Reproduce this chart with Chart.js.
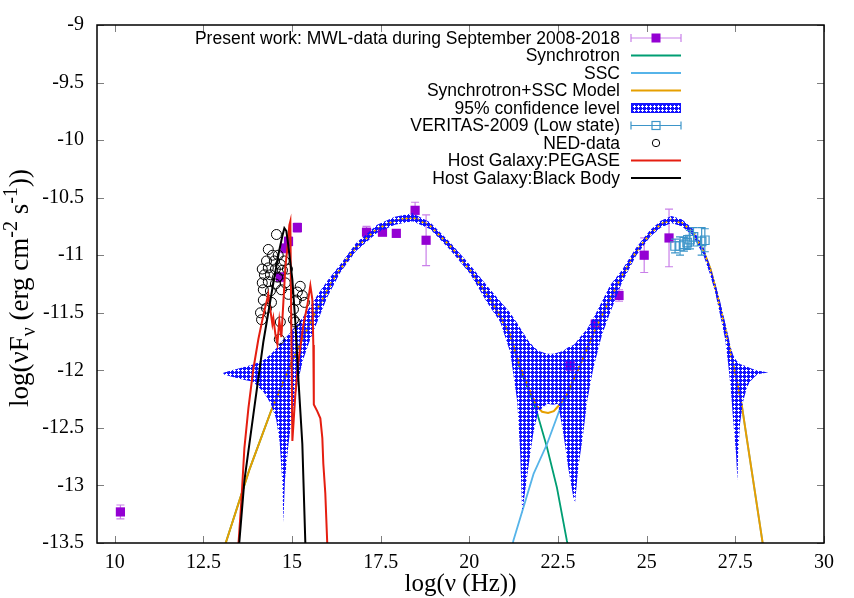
<!DOCTYPE html>
<html>
<head>
<meta charset="utf-8">
<style>
  html, body { margin: 0; padding: 0; background: #fff; }
  #wrap { width: 854px; height: 598px; }
</style>
<script src="https://cdn.jsdelivr.net/npm/chart.js@4.4.1/dist/chart.umd.min.js"></script>
</head>
<body>
<div id="wrap"><canvas id="sed" width="854" height="598"></canvas></div>
<script>
// ---- data ----
const xTicks = [10, 12.5, 15, 17.5, 20, 22.5, 25, 27.5, 30];
const yTicks = [-13.5, -13, -12.5, -12, -11.5, -11, -10.5, -10, -9.5, -9];

// present work MWL points
const mwlX = [10.16, 14.67, 14.80, 14.90, 15.15, 17.10, 17.55, 17.94, 18.47, 18.78, 22.84, 23.55, 24.22, 24.93, 25.63];
const mwlY = [-13.23, -11.19, -10.94, -10.88, -10.76, -10.80, -10.80, -10.81, -10.61, -10.87, -11.96, -11.60, -11.35, -11.00, -10.85];
const mwlErr = [0.06, 0.04, 0.04, 0.04, 0.04, 0.05, 0.03, 0.03, 0.07, 0.22, 0.04, 0.04, 0.05, 0.15, 0.25];

// VERITAS 2009 low state
const verX = [25.80, 25.94, 26.05, 26.14, 26.22, 26.32, 26.55, 26.64];
const verY = [-10.92, -10.92, -10.905, -10.89, -10.865, -10.84, -10.88, -10.87];
const verErr = [0.06, 0.08, 0.06, 0.06, 0.08, 0.08, 0.12, 0.10];

// NED archival points
const nedX = [14.56, 14.33, 14.45, 14.28, 14.50, 14.67, 14.16, 14.33, 14.53, 14.73, 14.22, 14.39, 14.59,
  14.16, 14.33, 14.53, 14.19, 14.39, 14.19, 14.28, 14.14, 14.42, 14.67, 14.64, 14.87, 14.90, 15.04,
  15.04, 15.12, 15.23, 15.29, 15.35, 15.15, 15.09, 14.81, 14.70, 14.61, 14.78, 14.11];
const nedY = [-10.82, -10.95, -11.00, -11.05, -11.05, -11.08, -11.12, -11.11, -11.12, -11.13, -11.17, -11.17, -11.19,
  -11.24, -11.23, -11.25, -11.30, -11.31, -11.39, -11.46, -11.56, -11.41, -11.58, -11.73, -11.12, -11.34, -11.47,
  -11.56, -11.39, -11.27, -11.35, -11.41, -11.32, -11.58, -11.24, -11.30, -11.00, -11.05, -11.50];

// Synchrotron + SSC model
const modelX = [13.0, 13.15, 13.8, 14.4, 15.0, 15.6, 16.2, 16.8, 17.4, 17.9, 18.4, 18.9, 19.46, 20.02, 20.59,
  21.15, 21.43, 21.71, 21.9, 22.05, 22.22, 22.38, 22.51, 22.75, 23.1, 23.5, 23.9, 24.3, 24.7, 25.1, 25.4,
  25.7, 26.0, 26.3, 26.6, 26.8, 27.0, 27.2, 27.4, 27.55, 27.68, 27.95, 28.26, 28.35];
const modelY = [-13.63, -13.48, -12.86, -12.36, -11.92, -11.53, -11.19, -10.93, -10.77, -10.70, -10.67, -10.745,
  -10.92, -11.13, -11.38, -11.69, -11.97, -12.18, -12.31, -12.36, -12.37, -12.355, -12.31, -12.21, -11.97,
  -11.68, -11.42, -11.18, -10.97, -10.81, -10.73, -10.69, -10.72, -10.80, -10.96, -11.12, -11.36, -11.62,
  -11.89, -12.10, -12.30, -12.85, -13.48, -13.68];

// synchrotron component
const syncX = [13.0, 13.15, 13.8, 14.4, 15.0, 15.6, 16.2, 16.8, 17.4, 17.9, 18.4, 18.9, 19.46, 20.02, 20.59,
  21.15, 21.43, 21.71, 21.9, 22.19, 22.47, 22.75, 22.85];
const syncY = [-13.63, -13.48, -12.86, -12.36, -11.92, -11.53, -11.19, -10.93, -10.77, -10.70, -10.67, -10.745,
  -10.92, -11.13, -11.38, -11.69, -11.99, -12.20, -12.36, -12.67, -13.02, -13.48, -13.62];

// SSC component
const sscX = [21.2, 21.24, 21.81, 22.19, 22.56, 22.75, 23.1, 23.5, 23.9, 24.3, 24.7, 25.1, 25.4, 25.7, 26.0,
  26.3, 26.6, 26.8, 27.0, 27.2, 27.4, 27.55, 27.68, 27.95, 28.26, 28.35];
const sscY = [-13.55, -13.48, -12.90, -12.64, -12.33, -12.23, -11.97, -11.68, -11.42, -11.18, -10.97, -10.81,
  -10.73, -10.69, -10.72, -10.80, -10.96, -11.12, -11.36, -11.62, -11.89, -12.10, -12.30, -12.85, -13.48, -13.68];

// 95% confidence band (upper / lower edge on a shared grid)
const bandX = [13.06, 13.3, 13.6, 13.9, 14.2, 14.4, 14.55, 14.65, 14.72, 14.755, 14.8, 14.9, 15.0, 15.15, 15.3,
  15.5, 15.75, 16.0, 16.36, 16.8, 17.4, 17.9, 18.4, 18.9, 19.46, 20.02, 20.5, 20.87, 21.15, 21.35, 21.43, 21.49,
  21.66, 21.8, 21.94, 22.19, 22.36, 22.5, 22.65, 22.79, 22.93, 22.98, 23.07, 23.21, 23.32, 23.49, 23.74, 23.97,
  24.3, 24.7, 25.1, 25.4, 25.7, 26.0, 26.3, 26.6, 26.78, 26.93, 27.07, 27.21, 27.3, 27.37, 27.44, 27.52, 27.56,
  27.58, 27.63, 27.72, 27.82, 27.91, 28.1, 28.2, 28.43];
const bandHi = [-12.02, -12.00, -11.975, -11.95, -11.91, -11.86, -11.81, -11.77, -11.745, -11.73, -11.72, -11.69,
  -11.65, -11.60, -11.54, -11.45, -11.33, -11.22, -11.08, -10.895, -10.735, -10.665, -10.635, -10.715, -10.89,
  -11.085, -11.265, -11.40, -11.50, -11.59, -11.63, -11.66, -11.74, -11.79, -11.83, -11.855, -11.855, -11.845,
  -11.83, -11.80, -11.78, -11.77, -11.73, -11.68, -11.64, -11.55, -11.40, -11.26, -11.13, -10.935, -10.78,
  -10.70, -10.66, -10.69, -10.77, -10.93, -11.09, -11.24, -11.40, -11.58, -11.70, -11.80, -11.87, -11.91,
  -11.925, -11.93, -11.945, -11.955, -11.965, -11.98, -12.00, -12.006, -12.018];
const bandLo = [-12.035, -12.055, -12.08, -12.10, -12.19, -12.29, -12.42, -12.62, -12.95, -13.32, -12.95, -12.64,
  -12.40, -12.12, -11.92, -11.74, -11.55, -11.36, -11.15, -10.965, -10.805, -10.735, -10.705, -10.775, -10.955,
  -11.16, -11.41, -11.58, -11.84, -12.27, -12.70, -13.24, -12.85, -12.55, -12.36, -12.29, -12.30, -12.29,
  -12.55, -12.85, -13.10, -13.15, -12.85, -12.55, -12.27, -11.99, -11.69, -11.50, -11.24, -11.005, -10.84,
  -10.76, -10.72, -10.75, -10.83, -11.00, -11.16, -11.32, -11.52, -11.725, -11.95, -12.16, -12.44, -12.73,
  -12.96, -12.73, -12.47, -12.27, -12.156, -12.10, -12.04, -12.03, -12.018];

// host galaxy PEGASE template
const pegX = [13.487, 13.572, 13.656, 13.769, 13.91, 14.051, 14.19, 14.276, 14.33, 14.389, 14.445, 14.473, 14.53,
  14.586, 14.642, 14.699, 14.755, 14.811, 14.868, 14.924, 14.952, 14.98, 15.009, 15.093, 15.178, 15.319, 15.431,
  15.516, 15.572, 15.60, 15.614, 15.713, 15.798, 15.854, 15.882, 15.938, 15.995];
const pegY = [-13.52, -13.13, -12.675, -12.33, -11.986, -11.728, -11.522, -11.41, -11.34, -11.479, -11.599, -11.547,
  -11.685, -11.771, -11.565, -11.711, -11.41, -11.108, -10.936, -10.738, -10.704, -11.668, -12.614, -12.21,
  -11.926, -11.608, -11.435, -11.263, -11.384, -11.78, -12.296, -12.356, -12.417, -12.589, -12.812, -13.07, -13.52];

// host galaxy black body
const bbX = [13.459, 13.515, 13.656, 13.91, 14.19, 14.473, 14.642, 14.727, 14.783, 14.84, 14.896, 15.009, 15.093,
  15.178, 15.29, 15.375, 15.403];
const bbY = [-13.647, -13.484, -12.959, -12.382, -11.754, -11.239, -10.954, -10.833, -10.764, -10.79, -10.919,
  -11.212, -11.582, -12.072, -12.64, -13.50, -13.69];

// ---- styling ----
const PURPLE = '#9400d3';
const PURPLE_BAR = 'rgba(148,0,211,0.5)';
const GREEN = '#009e73';
const SKY = '#56b4e9';
const ORANGE = '#e69f00';
const BLUE = '#1414ff';
const VER_BLUE = '#3d95c9';
const RED = '#e51e10';
const SERIF = '"Liberation Serif", "DejaVu Serif", serif';
const SANS = '"Liberation Sans", Arial, sans-serif';

const canvas = document.getElementById('sed');
const ctx0 = canvas.getContext('2d');

function makePattern() {
  // crosshatch tile: blue mesh with a small round hole
  const c = document.createElement('canvas');
  c.width = 4; c.height = 4;
  const g = c.getContext('2d');
  g.fillStyle = BLUE;
  g.fillRect(0, 0, 4, 4);
  g.clearRect(1, 2, 3, 1);
  g.clearRect(2, 1, 1, 3);
  return ctx0.createPattern(c, 'repeat');
}
const bandPattern = makePattern();

function pts(xs, ys) {
  return xs.map((x, i) => ({ x: x, y: ys[i] }));
}

function lineSet(label, xs, ys, color, order, width) {
  return {
    label: label, data: pts(xs, ys), showLine: true, borderColor: color,
    borderWidth: width || 2, pointRadius: 0, tension: 0, fill: false, order: order
  };
}

function errBars(chart, xs, ys, err, color) {
  const { ctx, scales } = chart;
  ctx.save();
  ctx.strokeStyle = color;
  ctx.lineWidth = 1.2;
  ctx.beginPath();
  for (let i = 0; i < xs.length; i++) {
    const px = scales.x.getPixelForValue(xs[i]);
    const p1 = scales.y.getPixelForValue(ys[i] + err[i]);
    const p2 = scales.y.getPixelForValue(ys[i] - err[i]);
    ctx.moveTo(px, p1); ctx.lineTo(px, p2);
    ctx.moveTo(px - 4, p1); ctx.lineTo(px + 4, p1);
    ctx.moveTo(px - 4, p2); ctx.lineTo(px + 4, p2);
  }
  ctx.stroke();
  ctx.restore();
}

// legend rows in gnuplot key style: text right aligned, sample to the right
const legendRows = [
  { text: 'Present work: MWL-data during September 2008-2018', kind: 'err', color: PURPLE, bar: PURPLE_BAR, filled: true },
  { text: 'Synchrotron', kind: 'line', color: GREEN },
  { text: 'SSC', kind: 'line', color: SKY },
  { text: 'Synchrotron+SSC Model', kind: 'line', color: ORANGE },
  { text: '95% confidence level', kind: 'band' },
  { text: 'VERITAS-2009 (Low state)', kind: 'err', color: VER_BLUE, bar: VER_BLUE, filled: false },
  { text: 'NED-data', kind: 'circle' },
  { text: 'Host Galaxy:PEGASE', kind: 'line', color: RED },
  { text: 'Host Galaxy:Black Body', kind: 'line', color: '#000' }
];

function drawLegend(ctx) {
  const textRight = 620, s0 = 631, s1 = 681, mid = 656;
  ctx.save();
  ctx.font = '17.5px ' + SANS;
  ctx.textAlign = 'right';
  ctx.textBaseline = 'middle';
  legendRows.forEach((r, i) => {
    const y = 38 + i * 17.5;
    ctx.fillStyle = '#000';
    ctx.fillText(r.text, textRight, y + 1);
    if (r.kind === 'line') {
      ctx.strokeStyle = r.color; ctx.lineWidth = 2;
      ctx.beginPath(); ctx.moveTo(s0, y); ctx.lineTo(s1, y); ctx.stroke();
    } else if (r.kind === 'band') {
      ctx.fillStyle = bandPattern;
      ctx.fillRect(s0, y - 4.5, s1 - s0, 9);
      ctx.strokeStyle = BLUE; ctx.lineWidth = 1;
      ctx.strokeRect(s0 + 0.5, y - 4.5, s1 - s0 - 1, 9);
    } else if (r.kind === 'err') {
      ctx.strokeStyle = r.bar; ctx.lineWidth = 1.2;
      ctx.beginPath();
      ctx.moveTo(s0, y); ctx.lineTo(s1, y);
      ctx.moveTo(s0, y - 4); ctx.lineTo(s0, y + 4);
      ctx.moveTo(s1, y - 4); ctx.lineTo(s1, y + 4);
      ctx.stroke();
      if (r.filled) {
        ctx.fillStyle = r.color; ctx.fillRect(mid - 4.5, y - 4.5, 9, 9);
      } else {
        ctx.strokeStyle = r.color; ctx.strokeRect(mid - 4, y - 4, 8, 8);
      }
    } else if (r.kind === 'circle') {
      ctx.strokeStyle = '#000'; ctx.lineWidth = 1;
      ctx.beginPath(); ctx.arc(mid, y, 3.7, 0, Math.PI * 2); ctx.stroke();
    }
  });
  ctx.restore();
}

function drawRich(ctx, parts, size) {
  // measure then draw pieces with sub/superscripts along the baseline
  let w = 0;
  const small = Math.round(size * 0.75);
  parts.forEach(p => {
    ctx.font = (p.sub || p.sup ? small : size) + 'px ' + SERIF;
    p.w = ctx.measureText(p.t).width;
    w += p.w;
  });
  let x = -w / 2;
  parts.forEach(p => {
    ctx.font = (p.sub || p.sup ? small : size) + 'px ' + SERIF;
    const dy = p.sub ? size * 0.25 : (p.sup ? -size * 0.42 : 0);
    ctx.fillText(p.t, x, dy);
    x += p.w;
  });
}

const framePlugin = {
  id: 'frame',
  beforeDatasetDraw(chart, args) {
    if (args.index === 0) errBars(chart, mwlX, mwlY, mwlErr, PURPLE_BAR);
    if (args.index === 6) errBars(chart, verX, verY, verErr, VER_BLUE);
  },
  afterDraw(chart) {
    const { ctx, chartArea: a, scales } = chart;
    ctx.save();
    // inward mirrored ticks
    ctx.strokeStyle = '#7f7f7f';
    ctx.lineWidth = 1;
    ctx.beginPath();
    xTicks.forEach(v => {
      const px = Math.round(scales.x.getPixelForValue(v)) + 0.5;
      ctx.moveTo(px, a.bottom); ctx.lineTo(px, a.bottom - 7);
      ctx.moveTo(px, a.top); ctx.lineTo(px, a.top + 7);
    });
    yTicks.forEach(v => {
      const py = Math.round(scales.y.getPixelForValue(v)) + 0.5;
      ctx.moveTo(a.left, py); ctx.lineTo(a.left + 7, py);
      ctx.moveTo(a.right, py); ctx.lineTo(a.right - 7, py);
    });
    ctx.stroke();
    // border
    ctx.strokeStyle = '#000';
    ctx.lineWidth = 1.5;
    ctx.strokeRect(a.left, a.top, a.right - a.left, a.bottom - a.top);

    drawLegend(ctx);

    // axis titles
    ctx.fillStyle = '#000';
    ctx.textAlign = 'left';
    ctx.textBaseline = 'alphabetic';
    ctx.save();
    ctx.translate((a.left + a.right) / 2, 591);
    drawRich(ctx, [{ t: 'log(ν (Hz))' }], 25);
    ctx.restore();
    ctx.save();
    ctx.translate(28, (a.top + a.bottom) / 2 + 4);
    ctx.rotate(-Math.PI / 2);
    drawRich(ctx, [{ t: 'log(νF' }, { t: 'ν', sub: true }, { t: ' (erg cm' }, { t: '-2', sup: true },
      { t: ' s' }, { t: '-1', sup: true }, { t: '))' }], 27);
    ctx.restore();
    ctx.restore();
  }
};

const datasets = [
  {
    label: 'MWL', data: pts(mwlX, mwlY), pointStyle: 'rect', pointRadius: 6.5,
    backgroundColor: PURPLE, borderColor: PURPLE, borderWidth: 0, order: 10
  },
  lineSet('Synchrotron', syncX, syncY, GREEN, 9, 1.8),
  lineSet('SSC', sscX, sscY, SKY, 8, 1.8),
  lineSet('Model', modelX, modelY, ORANGE, 7, 2),
  {
    label: 'band lo', data: pts(bandX, bandLo), showLine: true, borderWidth: 0,
    borderColor: 'rgba(0,0,0,0)', pointRadius: 0, tension: 0, fill: false, order: 6
  },
  {
    label: 'band hi', data: pts(bandX, bandHi), showLine: true, borderWidth: 0,
    borderColor: 'rgba(0,0,0,0)', pointRadius: 0, tension: 0, fill: '-1',
    backgroundColor: bandPattern, order: 5
  },
  {
    label: 'VERITAS', data: pts(verX, verY), pointStyle: 'rect', pointRadius: 6,
    backgroundColor: 'rgba(0,0,0,0)', borderColor: VER_BLUE, borderWidth: 1.2, order: 4
  },
  {
    label: 'NED', data: pts(nedX, nedY), pointStyle: 'circle', pointRadius: 5,
    backgroundColor: 'rgba(0,0,0,0)', borderColor: '#000', borderWidth: 1, order: 3
  },
  lineSet('PEGASE', pegX, pegY, RED, 2, 2),
  lineSet('BB', bbX, bbY, '#000', 1, 2)
];

new Chart(canvas, {
  type: 'scatter',
  data: { datasets: datasets },
  options: {
    responsive: false,
    devicePixelRatio: 1,
    animation: false,
    events: [],
    layout: { padding: { left: 0, right: 30, top: 20, bottom: 0 } },
    plugins: { legend: { display: false }, tooltip: { enabled: false } },
    scales: {
      x: {
        type: 'linear', min: 9.5, max: 30,
        afterBuildTicks: s => { s.ticks = xTicks.map(v => ({ value: v })); },
        afterFit: s => { s.height = 55; },
        grid: { display: false, drawTicks: false },
        border: { display: false },
        ticks: { color: '#000', font: { family: SERIF, size: 20 }, padding: 8, callback: v => String(v) }
      },
      y: {
        type: 'linear', min: -13.5, max: -9,
        afterBuildTicks: s => { s.ticks = yTicks.map(v => ({ value: v })); },
        afterFit: s => { s.width = 97; },
        grid: { display: false, drawTicks: false },
        border: { display: false },
        ticks: { color: '#000', font: { family: SERIF, size: 20 }, padding: 13, callback: v => String(v) }
      }
    }
  },
  plugins: [framePlugin]
});
</script>
</body>
</html>
